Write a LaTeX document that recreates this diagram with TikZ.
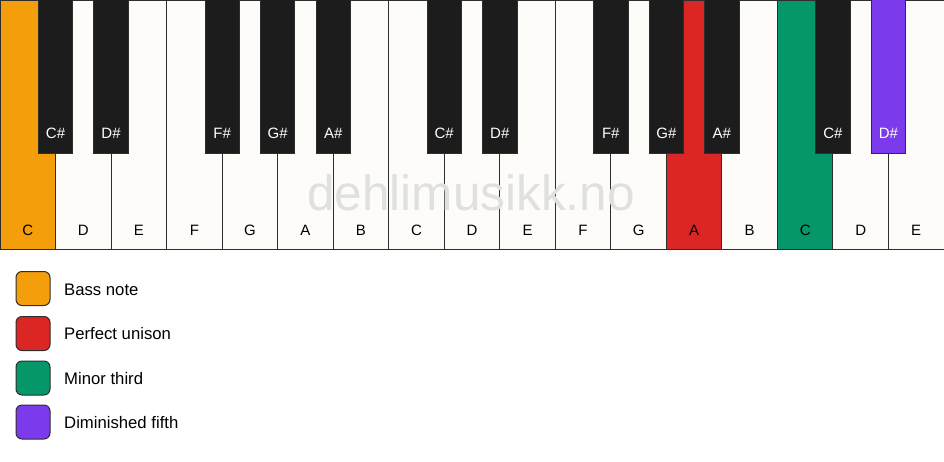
\documentclass[tikz,border=0pt]{standalone}
\usepackage{fontspec}
\setmainfont{Liberation Sans}
\definecolor{bassc}{HTML}{F59E0B}
\definecolor{unisonc}{HTML}{DC2626}
\definecolor{thirdc}{HTML}{059669}
\definecolor{fifthc}{HTML}{7C3AED}
\definecolor{ivory}{HTML}{FDFCF8}
\definecolor{ebony}{HTML}{1C1C1C}
\definecolor{edge}{HTML}{2E2E2E}
\tikzset{
  whitekey/.style={draw=edge, line width=1pt, fill=ivory},
  blackkey/.style={draw=edge, line width=0.8pt, fill=ebony},
  wlabel/.style={font=\fontsize{15}{17}\selectfont, text=black, inner sep=0pt},
  blabel/.style={font=\fontsize{15}{17}\selectfont, text=white, inner sep=0pt},
  swatch/.style={draw=edge, line width=1pt, rounded corners=6pt, minimum width=34pt, minimum height=34pt, inner sep=0pt},
  legtext/.style={font=\fontsize{16.7}{19}\selectfont, anchor=west, inner sep=0pt},
  wmark/.style={font=\fontsize{49.5}{52}\selectfont, text=black!12, inner sep=0pt}
}
\begin{document}
\begin{tikzpicture}[x=1pt,y=-1pt]
\useasboundingbox (0,0) rectangle (944,461);
\pgfmathsetmacro{\w}{944/17}
% white keys
\foreach \i/\n/\c in {0/C/bassc,1/D/ivory,2/E/ivory,3/F/ivory,4/G/ivory,5/A/ivory,6/B/ivory,7/C/ivory,8/D/ivory,9/E/ivory,10/F/ivory,11/G/ivory,12/A/unisonc,13/B/ivory,14/C/thirdc,15/D/ivory,16/E/ivory}{
  \draw[whitekey, fill=\c] ({\i*\w},0) rectangle ({(\i+1)*\w},249.5);
}
% watermark
\node[wmark, anchor=base] (wm) at (471,210) {dehlimusikk.no};
% white key labels
\foreach \i/\n in {0/C,1/D,2/E,3/F,4/G,5/A,6/B,7/C,8/D,9/E,10/F,11/G,12/A,13/B,14/C,15/D,16/E}{
  \node[wlabel] (w\i) at ({(\i+0.5)*\w},230) {\n};
}
% black keys
\foreach \i/\n/\c in {0/C\#/ebony,1/D\#/ebony,3/F\#/ebony,4/G\#/ebony,5/A\#/ebony,7/C\#/ebony,8/D\#/ebony,10/F\#/ebony,11/G\#/ebony,12/A\#/ebony,14/C\#/ebony,15/D\#/fifthc}{
  \draw[blackkey, fill=\c] ({(\i+1)*\w-17.2},-1) rectangle ({(\i+1)*\w+17.2},153.3);
  \node[blabel] (b\i) at ({(\i+1)*\w},133) {\n};
}
% legend
\node[swatch, fill=bassc] (s1) at (33,288.5) {};
\node[swatch, fill=unisonc] (s2) at (33,333.5) {};
\node[swatch, fill=thirdc] (s3) at (33,378) {};
\node[swatch, fill=fifthc] (s4) at (33,422) {};
\node[legtext] (t1) at (64,289.5) {Bass note};
\node[legtext] (t2) at (64,334) {Perfect unison};
\node[legtext] (t3) at (64,378.5) {Minor third};
\node[legtext] (t4) at (64,423) {Diminished fifth};
\end{tikzpicture}
\end{document}
